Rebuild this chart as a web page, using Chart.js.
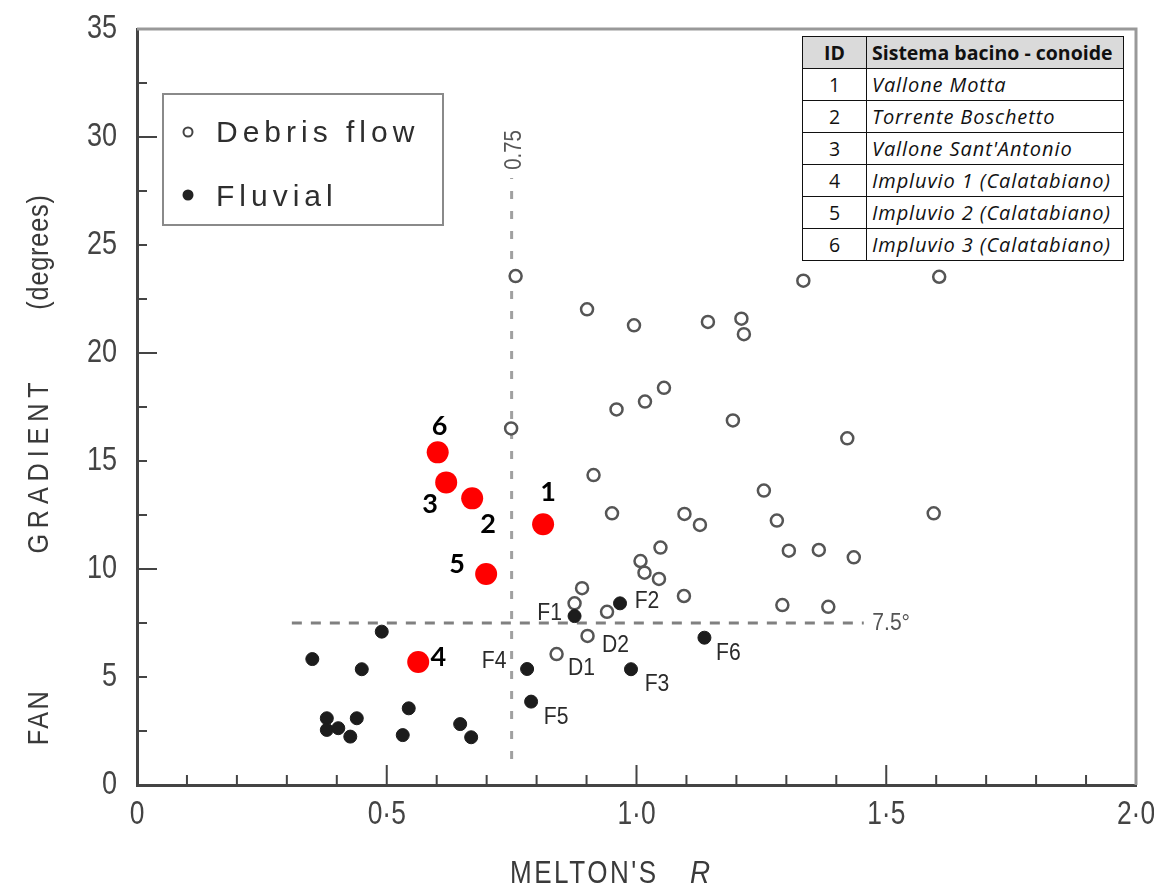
<!DOCTYPE html>
<html>
<head>
<meta charset="utf-8">
<script src="https://cdn.jsdelivr.net/npm/chart.js@4.4.1/dist/chart.umd.min.js"></script>
<style>
body { margin: 0; background: #fff; }
#wrap { position: relative; width: 1154px; height: 888px; }
#fans { position: absolute; left: 802px; top: 36px; width: 322px; border-collapse: collapse; table-layout: fixed;
	font-family: "Open Sans", Lato, sans-serif; color: #111; background: #fff; }
#fans th, #fans td { border: 1.5px solid #111; height: 31px; padding: 0 5px; white-space: nowrap; overflow: hidden; }
#fans th { background: #dadada; font-weight: bold; text-align: left; font-size: 19.5px; letter-spacing: 0; }
#fans .id { text-align: center; padding: 0; font-size: 19.5px; }
#fans td.name { font-style: italic; font-size: 20px; letter-spacing: 0.9px; }
</style>
</head>
<body>
<div id="wrap">
	<canvas id="chart" width="1154" height="888"></canvas>
	<table id="fans"><colgroup><col style="width:64px"><col></colgroup></table>
</div>
<script>
// DEBRIS FLOW FANS (open circles)
var debrisR = [0.758, 0.901, 0.995, 1.143, 1.210, 1.215, 1.334, 1.606, 1.055, 1.017, 0.960, 0.749,
	1.193, 1.422, 0.914, 1.255, 0.951, 1.096, 1.127, 1.281, 1.595, 1.048, 1.305, 1.365, 1.435,
	1.008, 1.016, 1.045, 0.891, 0.876, 1.095, 1.292, 1.384, 0.941, 0.902, 0.840];
var debrisGrad = [23.56, 22.02, 21.28, 21.44, 21.59, 20.87, 23.35, 23.53, 18.39, 17.75, 17.39, 16.51,
	16.88, 16.05, 14.35, 13.63, 12.58, 12.55, 12.04, 12.24, 12.58, 10.99, 10.85, 10.88, 10.54,
	10.37, 9.83, 9.54, 9.11, 8.41, 8.75, 8.33, 8.25, 8.02, 6.90, 6.06];
var debrisTags = ['', '', '', '', '', '', '', '', '', '', '', '', '', '', '', '', '', '', '', '', '',
	'', '', '', '', '', '', '', '', '', '', '', '', '', 'D2', 'D1'];

// FLUVIAL FANS (filled dots)
var fluvialR = [0.876, 0.967, 0.989, 0.781, 0.789, 1.136, 0.490, 0.351, 0.450, 0.544, 0.440, 0.380,
	0.380, 0.403, 0.427, 0.532, 0.647, 0.669];
var fluvialGrad = [7.82, 8.41, 5.36, 5.37, 3.86, 6.82, 7.10, 5.83, 5.36, 3.55, 3.09, 3.09,
	2.55, 2.63, 2.24, 2.31, 2.82, 2.21];
var fluvialTags = ['F1', 'F2', 'F3', 'F4', 'F5', 'F6', '', '', '', '', '', '', '', '', '', '', '', ''];

// STUDY FANS (red)
var studyIds = [1, 2, 3, 4, 5, 6];
var studyR = [0.813, 0.671, 0.619, 0.563, 0.699, 0.602];
var studyGrad = [12.07, 13.27, 14.01, 5.69, 9.77, 15.40];
var studyNames = ['Vallone Motta', 'Torrente Boschetto', "Vallone Sant'Antonio",
	'Impluvio 1 (Calatabiano)', 'Impluvio 2 (Calatabiano)', 'Impluvio 3 (Calatabiano)'];

// AXES
var xTicks = [0, 0.5, 1, 1.5, 2];
var yTicks = [0, 5, 10, 15, 20, 25, 30, 35];
var rThreshold = 0.75;
var gradThreshold = 7.5;

// label placement (pixels from the point)
var tagOffsets = { F1: [-25, -3], F2: [27, -2], F3: [26, 15], F4: [-33, -8], F5: [25, 16], F6: [24, 16], D1: [25, 14], D2: [28, 9] };
var idOffsets = [[5, -32], [16, 26], [-16, 22], [20, -5], [-29, -10], [2, -26]];

var SANS = '"Liberation Sans", Arial, sans-serif';

function pts(xs, ys) {
	return xs.map(function(x, i) { return { x: x, y: ys[i] }; });
}

// squeezed text, the scan uses a narrow grotesque
function narrowText(ctx, text, x, y, sx) {
	ctx.save();
	ctx.translate(x, y);
	ctx.scale(sx, 1);
	ctx.fillText(text, 0, 0);
	ctx.restore();
}

// TABLE
var table = document.getElementById('fans');
var head = '<tr><th class="id">ID</th><th>Sistema bacino - conoide</th></tr>';
table.insertAdjacentHTML('beforeend', head + studyIds.map(function(id, i) {
	return '<tr><td class="id">' + id + '</td><td class="name">' + studyNames[i] + '</td></tr>';
}).join(''));

var decor = {
	id: 'decor',
	beforeDatasetsDraw: function(chart) {
		var ctx = chart.ctx, xs = chart.scales.x, ys = chart.scales.y, a = chart.chartArea;
		ctx.save();
		// top and right frame
		ctx.strokeStyle = '#999';
		ctx.lineWidth = 3;
		ctx.beginPath();
		ctx.moveTo(a.left, a.top); ctx.lineTo(a.right, a.top); ctx.lineTo(a.right, a.bottom);
		ctx.stroke();
		// inward ticks
		ctx.strokeStyle = '#444';
		ctx.lineWidth = 2;
		ctx.beginPath();
		for (var i = 1; i < 20; i++) {
			var px = xs.getPixelForValue(i / 10);
			ctx.moveTo(px, a.bottom); ctx.lineTo(px, a.bottom - (i % 5 === 0 ? 20 : 10));
		}
		for (var j = 1; j < 14; j++) {
			var py = ys.getPixelForValue(j * 2.5);
			ctx.moveTo(a.left, py); ctx.lineTo(a.left + (j % 4 === 0 ? 20 : 10), py);
		}
		ctx.stroke();
		// tick labels, narrow face
		ctx.fillStyle = '#444';
		ctx.font = '33px ' + SANS;
		ctx.textBaseline = 'middle';
		ctx.textAlign = 'center';
		xs.ticks.forEach(function(t) {
			narrowText(ctx, t.label, xs.getPixelForValue(t.value), 815, 0.8);
		});
		ctx.textAlign = 'right';
		ys.ticks.forEach(function(t) {
			narrowText(ctx, t.label, 117, ys.getPixelForValue(t.value), 0.82);
		});
		// threshold lines
		ctx.lineWidth = 3;
		ctx.setLineDash([8, 12]);
		ctx.strokeStyle = '#a0a0a0';
		var vx = xs.getPixelForValue(rThreshold);
		ctx.beginPath();
		ctx.moveTo(vx, ys.getPixelForValue(1.2)); ctx.lineTo(vx, ys.getPixelForValue(28.1));
		ctx.stroke();
		ctx.setLineDash([10, 9]);
		ctx.strokeStyle = '#808080';
		var hy = ys.getPixelForValue(gradThreshold);
		ctx.beginPath();
		ctx.moveTo(xs.getPixelForValue(0.31), hy); ctx.lineTo(xs.getPixelForValue(1.455), hy);
		ctx.stroke();
		ctx.restore();
	},
	afterDatasetsDraw: function(chart) {
		var ctx = chart.ctx, xs = chart.scales.x, ys = chart.scales.y;
		ctx.save();
		ctx.textBaseline = 'middle';
		ctx.textAlign = 'center';
		// threshold labels
		ctx.fillStyle = '#555';
		ctx.font = '24px ' + SANS;
		ctx.save();
		ctx.translate(xs.getPixelForValue(rThreshold) + 3, ys.getPixelForValue(29.4));
		ctx.rotate(-Math.PI / 2);
		narrowText(ctx, '0.75', 0, 0, 0.85);
		ctx.restore();
		ctx.textAlign = 'left';
		narrowText(ctx, '7.5°', xs.getPixelForValue(1.472), ys.getPixelForValue(gradThreshold), 0.88);
		// F / D tags
		ctx.textAlign = 'center';
		ctx.fillStyle = '#2a2a2a';
		ctx.font = '24px ' + SANS;
		[[0, debrisTags], [1, fluvialTags]].forEach(function(d) {
			var meta = chart.getDatasetMeta(d[0]);
			d[1].forEach(function(t, i) {
				if (!t) return;
				var el = meta.data[i], o = tagOffsets[t];
				narrowText(ctx, t, el.x + o[0], el.y + o[1], 0.88);
			});
		});
		// red ids
		ctx.fillStyle = '#000';
		ctx.font = 'bold 27px Lato, "Open Sans", sans-serif';
		var rmeta = chart.getDatasetMeta(2);
		studyIds.forEach(function(id, i) {
			var el = rmeta.data[i];
			ctx.fillText(String(id), el.x + idOffsets[i][0], el.y + idOffsets[i][1]);
		});
		// legend box
		ctx.strokeStyle = '#8a8a8a';
		ctx.lineWidth = 2;
		ctx.strokeRect(163, 94, 280, 131);
		var ds = chart.data.datasets;
		ctx.lineWidth = 2;
		ctx.strokeStyle = '#444';
		ctx.beginPath(); ctx.arc(188, 132, 4.5, 0, Math.PI * 2); ctx.stroke();
		ctx.fillStyle = '#222';
		ctx.beginPath(); ctx.arc(188, 195, 5.5, 0, Math.PI * 2); ctx.fill();
		ctx.textAlign = 'left';
		ctx.fillStyle = '#2e2e2e';
		ctx.font = '30px ' + SANS;
		ctx.letterSpacing = '5px';
		ctx.fillText(ds[0].label, 216, 134);
		ctx.fillText(ds[1].label, 216, 198);
		// axis titles
		ctx.fillStyle = '#3a3a3a';
		ctx.letterSpacing = '3px';
		ctx.font = '31px ' + SANS;
		narrowText(ctx, "MELTON'S", 510, 874, 0.84);
		ctx.font = 'italic 31px ' + SANS;
		narrowText(ctx, 'R', 690, 874, 0.9);
		ctx.font = '30px ' + SANS;
		ctx.textAlign = 'center';
		ctx.translate(40, 0);
		ctx.rotate(-Math.PI / 2);
		narrowText(ctx, 'FAN', -717, 0, 0.84);
		ctx.letterSpacing = '7px';
		narrowText(ctx, 'GRADIENT', -465, 0, 0.84);
		ctx.letterSpacing = '1px';
		narrowText(ctx, '(degrees)', -252, 0, 0.84);
		ctx.restore();
	}
};

var chart = new Chart(document.getElementById('chart').getContext('2d'), {
	type: 'scatter',
	data: {
		datasets: [{
			label: 'Debris flow',
			data: pts(debrisR, debrisGrad),
			pointRadius: 6,
			backgroundColor: '#fff',
			borderColor: '#555',
			borderWidth: 2.5,
			order: 2
		}, {
			label: 'Fluvial',
			data: pts(fluvialR, fluvialGrad),
			pointRadius: 6.5,
			backgroundColor: '#1c1c1c',
			borderColor: '#1c1c1c',
			borderWidth: 1,
			order: 1
		}, {
			label: 'Sistema bacino - conoide',
			data: pts(studyR, studyGrad),
			pointRadius: 11,
			backgroundColor: '#ff0000',
			borderWidth: 0,
			order: 0
		}]
	},
	options: {
		responsive: false,
		animation: false,
		layout: { padding: { top: 29, right: 18, left: 0, bottom: 0 } },
		plugins: { legend: { display: false }, tooltip: { enabled: false } },
		scales: {
			x: {
				type: 'linear', min: 0, max: 2,
				afterFit: function(s) { s.height = 103; s.paddingLeft = 0; s.paddingRight = 0; },
				afterBuildTicks: function(s) { s.ticks = xTicks.map(function(v) { return { value: v }; }); },
				grid: { display: false, drawTicks: false },
				border: { display: true, color: '#444', width: 3 },
				ticks: {
					display: false,
					callback: function(v) { return v === 0 ? '0' : v.toFixed(1).replace('.', '·'); }
				}
			},
			y: {
				type: 'linear', min: 0, max: 35,
				afterFit: function(s) { s.width = 137; s.paddingTop = 0; s.paddingBottom = 0; },
				afterBuildTicks: function(s) { s.ticks = yTicks.map(function(v) { return { value: v }; }); },
				grid: { display: false, drawTicks: false },
				border: { display: true, color: '#444', width: 3 },
				ticks: { display: false }
			}
		}
	},
	plugins: [decor]
});
</script>
</body>
</html>
